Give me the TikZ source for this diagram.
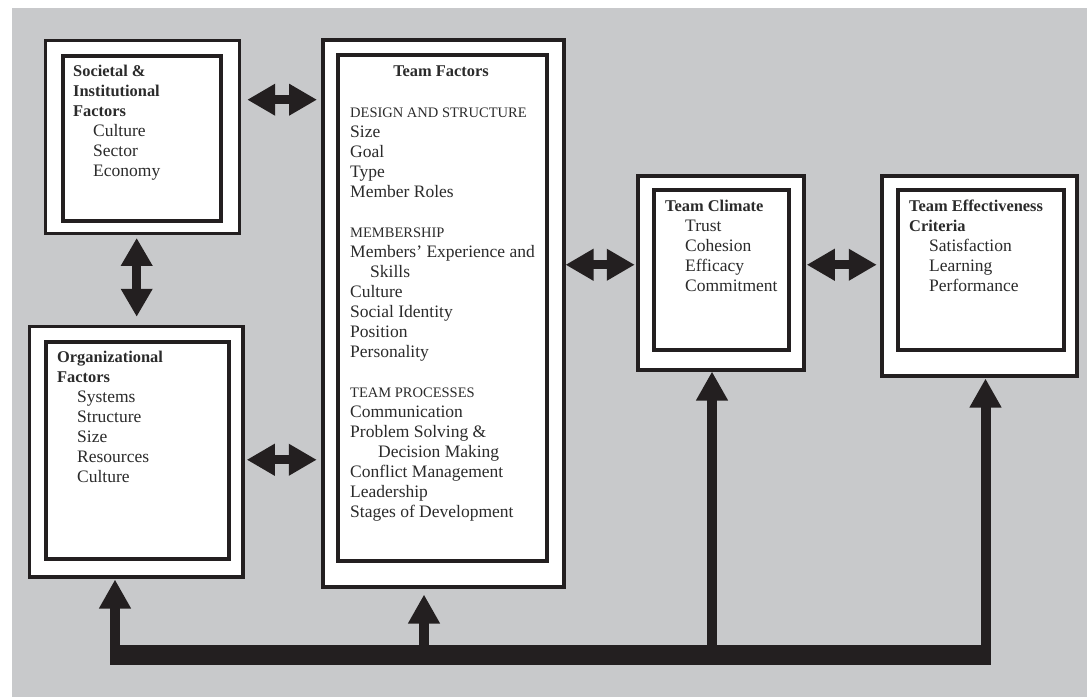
\documentclass[tikz,border=0pt]{standalone}
\usepackage{fontspec}
\setmainfont{Liberation Serif}
\usetikzlibrary{arrows.meta}
\definecolor{bggray}{HTML}{C8C9CB}
\definecolor{ink}{HTML}{231F20}
\definecolor{txt}{HTML}{2B2B2B}
\newcommand{\boxhead}[1]{{\bfseries\fontsize{16.4}{20}\selectfont #1}}
\newcommand{\capshead}[1]{{\fontsize{14.5}{20}\selectfont #1}}
\newcommand{\ind}{\hspace*{20pt}}

\begin{document}
\begin{tikzpicture}[x=1pt,y=-1pt,
    box/.style={draw=ink,line width=3.5pt,fill=white,anchor=north west,inner sep=0pt},
    inbox/.style={draw=ink,line width=4pt,anchor=north west,inner sep=0pt},
    lbl/.style={anchor=north west,inner sep=0pt,align=left,text=txt,font=\fontsize{17.5}{20}\selectfont},
    dblarrow/.style={ink,line width=9pt,{Triangle[length=28pt,width=30pt]}-{Triangle[length=28pt,width=30pt]}},
    uparrow/.style={ink,line width=10pt,-{Triangle[length=29pt,width=30pt]}},
    fbbar/.style={ink,line width=20pt}]

  \useasboundingbox (0,0) rectangle (1087,697);
  \fill[bggray] (12,8) rectangle (1087,697);

  \node[box,minimum width=194pt,minimum height=193pt] (soc) at (43.7,38.7) {};
  \node[inbox,minimum width=158pt,minimum height=165.5pt] (socIn) at (61,53.5) {};
  \node[lbl] (socTxt) at (73,65) {\boxhead{Societal \&}\\ \boxhead{Institutional}\\ \boxhead{Factors}\\
    \ind Culture\\ \ind Sector\\ \ind Economy};

  \node[box,minimum width=213.5pt,minimum height=250.5pt] (org) at (27.5,324.5) {};
  \node[inbox,minimum width=183pt,minimum height=217pt] (orgIn) at (44,340) {};
  \node[lbl] (orgTxt) at (57,351) {\boxhead{Organizational}\\ \boxhead{Factors}\\
    \ind Systems\\ \ind Structure\\ \ind Size\\ \ind Resources\\ \ind Culture};

  \node[box,minimum width=241pt,minimum height=547pt] (team) at (321,38) {};
  \node[inbox,minimum width=209pt,minimum height=506pt] (teamIn) at (336,53) {};
  \node[anchor=north,inner sep=0pt,text=txt] (teamTtl) at (441,66) {\boxhead{Team Factors}};
  \node[lbl] (teamTxt) at (350,107.4) {\capshead{DESIGN AND STRUCTURE}\\ Size\\ Goal\\ Type\\ Member Roles\\[20pt]
    \capshead{MEMBERSHIP}\\ Members’ Experience and\\ \ind Skills\\ Culture\\ Social Identity\\ Position\\ Personality\\[20pt]
    \capshead{TEAM PROCESSES}\\ Communication\\ Problem Solving \&\\ \hspace*{28pt}Decision Making\\
    Conflict Management\\ Leadership\\ Stages of Development};

  \node[box,minimum width=166pt,minimum height=194pt] (clim) at (636,174) {};
  \node[inbox,minimum width=135pt,minimum height=160pt] (climIn) at (652,188) {};
  \node[lbl] (climTxt) at (665,200) {\boxhead{Team Climate}\\ \ind Trust\\ \ind Cohesion\\ \ind Efficacy\\ \ind Commitment};

  \node[box,minimum width=195pt,minimum height=200pt] (eff) at (880,174) {};
  \node[inbox,minimum width=166pt,minimum height=160pt] (effIn) at (896,188) {};
  \node[lbl] (effTxt) at (909,200) {\boxhead{Team Effectiveness}\\ \boxhead{Criteria}\\
    \ind Satisfaction\\ \ind Learning\\ \ind Performance};

  \coordinate (a1) at ([yshift=-61pt]soc.north east);
  \coordinate (a2) at ([yshift=-135.25pt]org.north east);
  \coordinate (a3) at ([yshift=-226.75pt]team.north east);
  \coordinate (a4) at ([yshift=-90.75pt]clim.north east);
  \coordinate (a5) at ([xshift=93pt]soc.south west);
  \draw[dblarrow,shorten <=6pt,shorten >=4pt] (a1) -- (a1 -| team.west);
  \draw[dblarrow,shorten <=2.25pt,shorten >=4.25pt] (a2) -- (a2 -| team.west);
  \draw[dblarrow,shorten <=0pt,shorten >=1.25pt] (a3) -- (a3 -| clim.west);
  \draw[dblarrow,shorten <=1.25pt,shorten >=3.25pt] (a4) -- (a4 -| eff.west);
  \draw[dblarrow,shorten <=2.75pt,shorten >=7.75pt] (a5) -- (a5 |- org.north);

  \coordinate (fbA) at (115,655);
  \coordinate (fbB) at (424,655);
  \coordinate (fbC) at (712,655);
  \coordinate (fbD) at (985.5,655);
  \draw[fbbar] ([xshift=-5pt]fbA) -- ([xshift=5pt]fbD);
  \draw[uparrow,shorten >=1pt] (fbA) -- (fbA |- org.south);
  \draw[uparrow,shorten >=6pt] (fbB) -- (fbB |- team.south);
  \draw[uparrow] (fbC) -- (fbC |- clim.south);
  \draw[uparrow,shorten >=1pt] (fbD) -- (fbD |- eff.south);
\end{tikzpicture}
\end{document}
